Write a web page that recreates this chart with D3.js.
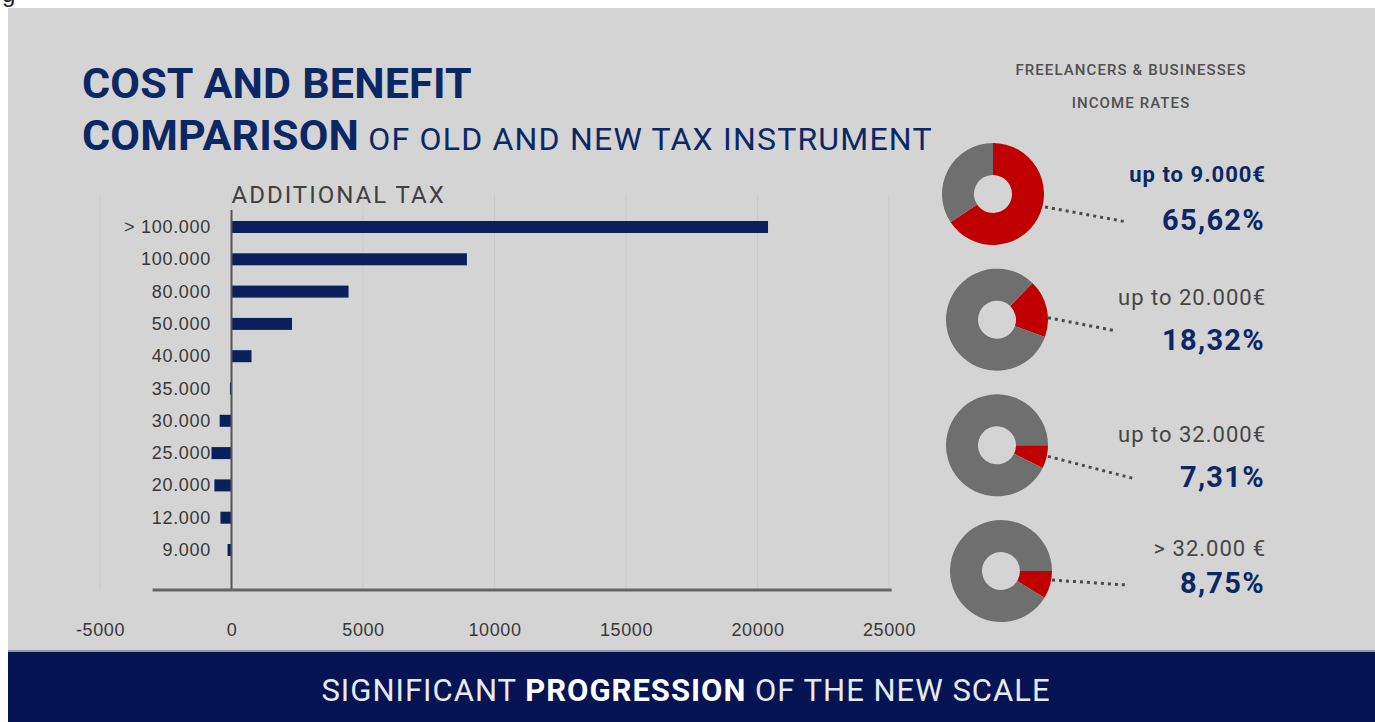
<!DOCTYPE html>
<html>
<head>
<meta charset="utf-8">
<script src="https://cdn.jsdelivr.net/npm/d3@7"></script>
<style>
  body { margin: 0; background: #fff; }
  svg { display: block; }
</style>
</head>
<body>
<script>
// data
const categories = ["> 100.000", "100.000", "80.000", "50.000", "40.000", "35.000", "30.000", "25.000", "20.000", "12.000", "9.000"];
const additionalTax = [20400, 8950, 4450, 2300, 760, -60, -450, -760, -650, -420, -150];
const xTicks = [-5000, 0, 5000, 10000, 15000, 20000, 25000];

const incomeBands = ["up to 9.000€", "up to 20.000€", "up to 32.000€", "> 32.000 €"];
const incomeShares = [65.62, 18.32, 7.31, 8.75];
const shareLabels = ["65,62%", "18,32%", "7,31%", "8,75%"];

const w = 1375;
const h = 722;
const navy = "#0b2764";
const barColor = "#0a1f5c";

const svg = d3.select("body").append("svg")
  .attr("width", w)
  .attr("height", h);

// stray glyph at the very top-left
svg.append("text").attr("x", 2).attr("y", 2)
  .attr("font-family", "Liberation Sans, Arial").attr("font-size", 24).attr("fill", "#222")
  .text("g");

// panel and banner
svg.append("rect").attr("x", 8).attr("y", 8).attr("width", w - 8).attr("height", 643).attr("fill", "#d4d4d4");
svg.append("rect").attr("x", 8).attr("y", 650).attr("width", w - 8).attr("height", 2).attr("fill", "#8d96b3");
svg.append("rect").attr("x", 8).attr("y", 652).attr("width", w - 8).attr("height", h - 652).attr("fill", "#061453");

// title
svg.append("text").attr("x", 82).attr("y", 98)
  .attr("font-family", "Roboto").attr("font-weight", 700).attr("font-size", 43).attr("letter-spacing", 0.2)
  .attr("fill", navy)
  .text("COST AND BENEFIT");
const t2 = svg.append("text").attr("x", 82).attr("y", 150)
  .attr("font-family", "Roboto").attr("fill", navy);
t2.append("tspan").attr("font-weight", 700).attr("font-size", 43).attr("letter-spacing", 0.2).text("COMPARISON");
t2.append("tspan").attr("font-size", 32).attr("letter-spacing", 1.2).text(" OF OLD AND NEW TAX INSTRUMENT");

// bar chart
const x = d3.scaleLinear().domain([-5000, 25000]).range([100, 889]);
const y = d3.scalePoint().domain(categories).range([227, 550]);
const axisY = 590;

svg.append("text").attr("x", x(0)).attr("y", 203)
  .attr("font-family", "Roboto").attr("font-size", 24).attr("letter-spacing", 2).attr("fill", "#404040")
  .text("ADDITIONAL TAX");

svg.append("g").selectAll("line").data(xTicks).enter().append("line")
  .attr("x1", d => x(d)).attr("x2", d => x(d))
  .attr("y1", 195).attr("y2", axisY)
  .attr("stroke", "#c9c9c9").attr("stroke-width", 1);

svg.append("g").selectAll("rect").data(additionalTax).enter().append("rect")
  .attr("x", d => x(Math.min(0, d)))
  .attr("y", (d, i) => y(categories[i]) - 6)
  .attr("width", d => Math.max(2, Math.abs(x(d) - x(0))))
  .attr("height", 12)
  .attr("fill", barColor);

svg.append("line").attr("x1", x(0)).attr("x2", x(0)).attr("y1", 210).attr("y2", axisY)
  .attr("stroke", "#555").attr("stroke-width", 2);
svg.append("line").attr("x1", x(-3000)).attr("x2", x(25100)).attr("y1", axisY).attr("y2", axisY)
  .attr("stroke", "#666").attr("stroke-width", 3);

svg.append("g").selectAll("text").data(categories).enter().append("text")
  .attr("x", 211).attr("y", d => y(d) + 6)
  .attr("text-anchor", "end")
  .attr("font-family", "Liberation Sans, Arial").attr("font-size", 18).attr("letter-spacing", 0.7)
  .attr("fill", "#383838")
  .text(d => d);

const xAxis = d3.axisBottom(x).tickValues(xTicks).tickSize(0).tickPadding(0).tickFormat(d => String(d));
const gx = svg.append("g").attr("transform", "translate(0," + 636 + ")").call(xAxis);
gx.select(".domain").remove();
gx.selectAll("text")
  .attr("dy", 0)
  .attr("font-family", "Liberation Sans, Arial").attr("font-size", 18).attr("letter-spacing", 0.6)
  .attr("fill", "#383838");

// right side header
svg.append("text").attr("x", 1131).attr("y", 75).attr("text-anchor", "middle")
  .attr("font-family", "Roboto").attr("font-weight", 500).attr("font-size", 15).attr("letter-spacing", 1.1)
  .attr("fill", "#505050")
  .text("FREELANCERS & BUSINESSES");
svg.append("text").attr("x", 1131).attr("y", 108).attr("text-anchor", "middle")
  .attr("font-family", "Roboto").attr("font-weight", 500).attr("font-size", 15).attr("letter-spacing", 1.1)
  .attr("fill", "#505050")
  .text("INCOME RATES");

// donuts
const donutCx = [993, 997, 997, 1001];
const donutCy = d3.scalePoint().domain(incomeBands).range([194, 571]);
const donutStart = [0, 44, 90, 90];
const labelY = [182, 305, 442, 556];
const pctY = [230, 350, 487, 593];
const leaders = [[52, 13, 134, 28], [51, -2, 118, 11], [51, 11, 136, 33], [51, 9, 126, 14]];

const arc = d3.arc().innerRadius(19).outerRadius(51);

incomeBands.forEach((band, i) => {
  const cx = donutCx[i];
  const cy = donutCy(band);
  const start = donutStart[i] * Math.PI / 180;
  const pie = d3.pie().sort(null).startAngle(start).endAngle(start + 2 * Math.PI);
  const g = svg.append("g").attr("transform", "translate(" + cx + "," + cy + ")");
  g.selectAll("path").data(pie([incomeShares[i], 100 - incomeShares[i]])).enter().append("path")
    .attr("d", arc)
    .attr("fill", (d, j) => j === 0 ? "#c00000" : "#6f6f6f");

  const l = leaders[i];
  svg.append("line")
    .attr("x1", cx + l[0]).attr("y1", cy + l[1])
    .attr("x2", cx + l[2]).attr("y2", cy + l[3])
    .attr("stroke", "#4a4a4a").attr("stroke-width", 3).attr("stroke-dasharray", "3,4");

  svg.append("text").attr("x", 1266).attr("y", labelY[i]).attr("text-anchor", "end")
    .attr("font-family", "Roboto")
    .attr("font-weight", i === 0 ? 700 : 400)
    .attr("font-size", 22).attr("letter-spacing", 1)
    .attr("fill", i === 0 ? navy : "#454545")
    .text(band);
  svg.append("text").attr("x", 1265).attr("y", pctY[i]).attr("text-anchor", "end")
    .attr("font-family", "Roboto").attr("font-weight", 700).attr("font-size", 29).attr("letter-spacing", 1.3)
    .attr("fill", navy)
    .text(shareLabels[i]);
});

// banner text
const bt = svg.append("text").attr("x", 686).attr("y", 701).attr("text-anchor", "middle")
  .attr("font-family", "Roboto").attr("font-size", 31).attr("fill", "#e6eaf4").attr("letter-spacing", 1);
bt.append("tspan").text("SIGNIFICANT ");
bt.append("tspan").attr("font-weight", 700).attr("fill", "#fff").text("PROGRESSION");
bt.append("tspan").text(" OF THE NEW SCALE");
</script>
</body>
</html>
